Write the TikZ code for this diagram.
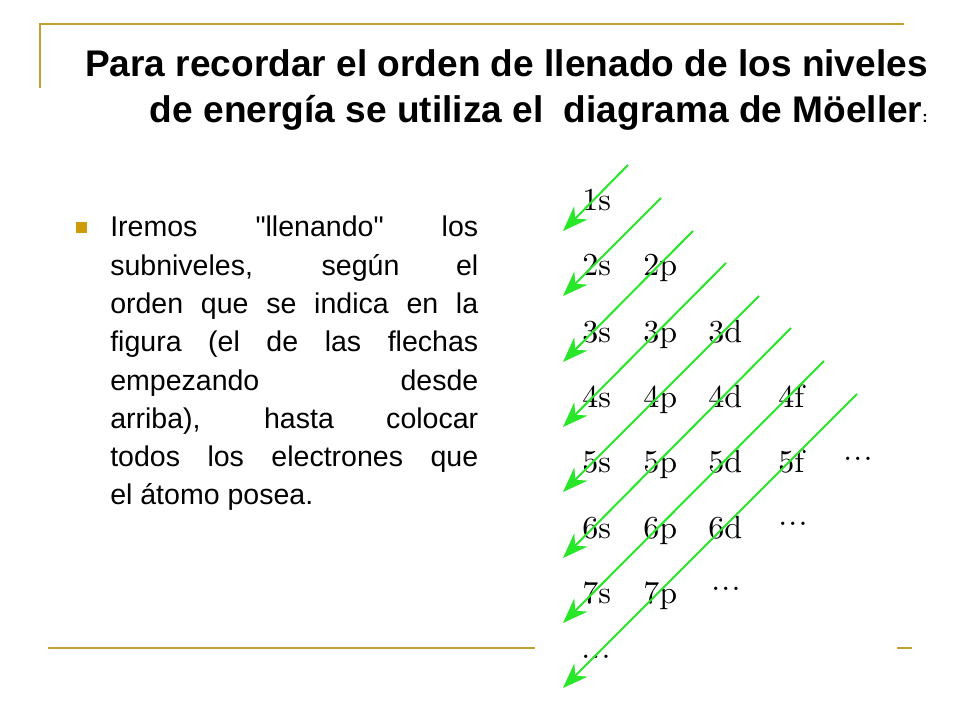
\documentclass[tikz,border=0pt]{standalone}
\usepackage{fontspec}
\newfontfamily\arial[Ligatures=TeXOff]{Liberation Sans}
\newfontfamily\cmdiez{lmroman10-regular.otf}
\usetikzlibrary{arrows.meta}
\definecolor{dorado}{RGB}{194,160,46}
\definecolor{oro}{RGB}{206,155,10}
\definecolor{verde}{RGB}{40,230,40}
\newcommand{\puntitos}{.\kern1pt.\kern1pt.}

\begin{document}
\begin{tikzpicture}[x=0.75pt,y=-0.75pt,
  linea/.style={dorado,line width=1.6pt},
  flecha/.style={verde,line width=1.5pt,-{Stealth[length=19pt,width=14pt,inset=6pt]}},
  titulo/.style={anchor=base east,inner sep=0pt,font=\arial\bfseries\fontsize{27.8}{33}\selectfont},
  orbital/.style={anchor=base west,inner sep=0pt,font=\cmdiez\fontsize{24}{24}\selectfont}]
\useasboundingbox (0,0) rectangle (960,720);

% Marco
\draw[linea] (40,88) -- (40,24) -- (904,24);
\draw[linea] (48,648) -- (535,648);
\draw[linea] (897,648) -- (912,648);

% Titulo
\node[titulo] (titulo1) at (928,77) {Para recordar el orden de llenado de los niveles};
\node[titulo] (titulo2) at (928,123) {de energía se utiliza el\ \ diagrama de Möeller{\fontsize{12}{12}\selectfont:}};

% Texto
\node[fill=oro,minimum size=8.25pt,inner sep=0pt] (vineta) at (81,228) {};
\node[anchor=base west,inner sep=0pt,text width=276pt,align=justify,
  font=\arial\fontsize{21.4}{28.7}\selectfont] (texto) at (110,237)
  {Iremos "llenando" los\linebreak subniveles, según el\linebreak
   orden que se indica en la\linebreak figura (el de las flechas\linebreak
   empezando desde\linebreak arriba), hasta colocar\linebreak
   todos los electrones que\linebreak el átomo posea.};

% Diagrama de Möeller
\node[orbital] (n1s) at (582,211) {1s};
\node[orbital] (n2s) at (582,276) {2s};
\node[orbital] (n2p) at (643,276) {2p};
\node[orbital] (n3s) at (582,342) {3s};
\node[orbital] (n3p) at (643,342) {3p};
\node[orbital] (n3d) at (708,342) {3d};
\node[orbital] (n4s) at (582,407) {4s};
\node[orbital] (n4p) at (643,407) {4p};
\node[orbital] (n4d) at (708,407) {4d};
\node[orbital] (n4f) at (778,407) {4f};
\node[orbital] (n5s) at (582,472) {5s};
\node[orbital] (n5p) at (643,472) {5p};
\node[orbital] (n5d) at (708,472) {5d};
\node[orbital] (n5f) at (778,472) {5f};
\node[orbital] (p5) at (843,460) {\puntitos};
\node[orbital] (n6s) at (582,538) {6s};
\node[orbital] (n6p) at (643,538) {6p};
\node[orbital] (n6d) at (708,538) {6d};
\node[orbital] (p6) at (778,525) {\puntitos};
\node[orbital] (n7s) at (582,603) {7s};
\node[orbital] (n7p) at (643,603) {7p};
\node[orbital] (p7) at (711,590) {\puntitos};
\node[orbital] (p8) at (581,658) {\puntitos};

% Flechas
\draw[flecha] (628,165) -- (563,231);
\draw[flecha] (661,198) -- (563,296);
\draw[flecha] (693,231) -- (563,362);
\draw[flecha] (726,263) -- (563,427);
\draw[flecha] (759,296) -- (563,492);
\draw[flecha] (791,328) -- (563,558);
\draw[flecha] (824,361) -- (563,623);
\draw[flecha] (857,394) -- (563,688);
\end{tikzpicture}
\end{document}
